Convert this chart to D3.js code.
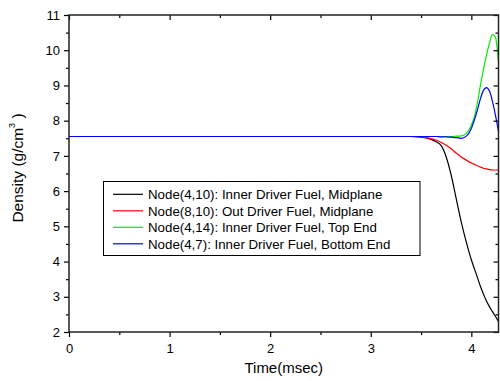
<!DOCTYPE html>
<html>
<head>
<meta charset="utf-8">
<script src="https://cdn.jsdelivr.net/npm/d3@7"></script>
<style>
  html, body { margin: 0; padding: 0; background: #fff; }
  svg { display: block; font-family: "Liberation Sans", Arial, sans-serif; }
</style>
</head>
<body>
<svg id="chart" width="500" height="381"></svg>
<script>
// ---- data ----
const timeMs = [0, 1, 2, 3, 3.3, 3.4, 3.5, 3.55, 3.6, 3.65, 3.7, 3.75, 3.8, 3.85, 3.9, 3.95, 4.0, 4.03, 4.06, 4.09, 4.12, 4.15, 4.18, 4.21, 4.24, 4.27];
const node4_10 = [7.55, 7.55, 7.55, 7.55, 7.55, 7.55, 7.53, 7.51, 7.47, 7.40, 7.29, 6.97, 6.45, 5.78, 5.12, 4.55, 4.05, 3.80, 3.55, 3.30, 3.08, 2.88, 2.72, 2.58, 2.44, 2.30];
const node8_10 = [7.55, 7.55, 7.55, 7.55, 7.55, 7.55, 7.54, 7.52, 7.49, 7.45, 7.38, 7.30, 7.20, 7.08, 6.97, 6.88, 6.80, 6.76, 6.72, 6.68, 6.65, 6.63, 6.61, 6.60, 6.60, 6.60];
const node4_14 = [7.55, 7.55, 7.55, 7.55, 7.55, 7.55, 7.55, 7.55, 7.55, 7.55, 7.55, 7.55, 7.55, 7.56, 7.57, 7.64, 7.88, 8.11, 8.50, 9.00, 9.45, 9.85, 10.20, 10.45, 10.36, 9.67];
const node4_7  = [7.55, 7.55, 7.55, 7.55, 7.55, 7.55, 7.55, 7.55, 7.55, 7.55, 7.54, 7.54, 7.53, 7.52, 7.50, 7.56, 7.78, 8.02, 8.30, 8.62, 8.86, 8.94, 8.84, 8.55, 8.15, 7.69];
const seriesNames = [
  "Node(4,10): Inner Driver Fuel, Midplane",
  "Node(8,10): Out Driver Fuel, Midplane",
  "Node(4,14): Inner Driver Fuel, Top End",
  "Node(4,7): Inner Driver Fuel, Bottom End"
];
const seriesColors = ["#000000", "#ff0000", "#00ee00", "#0000ff"];
const xTicks = [0, 1, 2, 3, 4];
const yTicks = [2, 3, 4, 5, 6, 7, 8, 9, 10, 11];

const seriesValues = [node4_10, node8_10, node4_14, node4_7];

// ---- layout ----
const svg = d3.select("#chart");
const L = 69, R = 498.5, T = 15, B = 332;
const x = d3.scaleLinear().domain([0, 4.27]).range([L, R]);
const y = d3.scaleLinear().domain([2, 11]).range([B, T]);

const minorX = d3.range(0.5, 4.27, 1);
const minorY = d3.range(2.5, 11, 1);

// curves (clipped to plot)
svg.append("clipPath").attr("id", "clip")
  .append("rect").attr("x", L).attr("y", T).attr("width", R - L).attr("height", B - T);

const line = d3.line().x(d => x(d[0])).y(d => y(d[1])).curve(d3.curveMonotoneX);
const g = svg.append("g").attr("clip-path", "url(#clip)");
seriesValues.forEach((vals, i) => {
  g.append("path")
    .datum(timeMs.map((t, j) => [t, vals[j]]))
    .attr("d", line)
    .attr("fill", "none")
    .attr("stroke", seriesColors[i])
    .attr("stroke-width", 1.2);
});

// axes
const tickStyle = sel => {
  sel.select(".domain").remove();
  sel.selectAll(".tick line").attr("stroke", "#000").attr("stroke-width", 1.2);
  sel.selectAll("text").attr("font-size", 13).attr("fill", "#000").attr("font-family", "Liberation Sans, Arial, sans-serif");
};

// bottom
svg.append("g").attr("transform", `translate(0,${B})`)
  .call(d3.axisBottom(x).tickValues(xTicks).tickFormat(d3.format("d")).tickSizeOuter(0).tickSizeInner(5).tickPadding(7))
  .call(tickStyle);
svg.append("g").attr("transform", `translate(0,${B})`)
  .call(d3.axisBottom(x).tickValues(minorX).tickFormat("").tickSizeOuter(0).tickSizeInner(3))
  .call(tickStyle);
// left
svg.append("g").attr("transform", `translate(${L},0)`)
  .call(d3.axisLeft(y).tickValues(yTicks).tickFormat(d3.format("d")).tickSizeOuter(0).tickSizeInner(5).tickPadding(4))
  .call(tickStyle);
svg.append("g").attr("transform", `translate(${L},0)`)
  .call(d3.axisLeft(y).tickValues(minorY).tickFormat("").tickSizeOuter(0).tickSizeInner(3))
  .call(tickStyle);
// top (inward)
svg.append("g").attr("transform", `translate(0,${T})`)
  .call(d3.axisBottom(x).tickValues(xTicks).tickFormat("").tickSizeOuter(0).tickSizeInner(5))
  .call(tickStyle);
svg.append("g").attr("transform", `translate(0,${T})`)
  .call(d3.axisBottom(x).tickValues(minorX).tickFormat("").tickSizeOuter(0).tickSizeInner(3))
  .call(tickStyle);
// right (inward)
svg.append("g").attr("transform", `translate(${R},0)`)
  .call(d3.axisLeft(y).tickValues(yTicks).tickFormat("").tickSizeOuter(0).tickSizeInner(5))
  .call(tickStyle);
svg.append("g").attr("transform", `translate(${R},0)`)
  .call(d3.axisLeft(y).tickValues(minorY).tickFormat("").tickSizeOuter(0).tickSizeInner(3))
  .call(tickStyle);

// frame
svg.append("rect").attr("x", L).attr("y", T).attr("width", R - L).attr("height", B - T)
  .attr("fill", "none").attr("stroke", "#222").attr("stroke-width", 1.5);

// axis titles
svg.append("text").attr("x", (L + R) / 2).attr("y", 373).attr("text-anchor", "middle")
  .attr("font-size", 15).attr("fill", "#000").text("Time(msec)");

const yt = svg.append("text").attr("transform", "translate(23,168) rotate(-90)")
  .attr("text-anchor", "middle").attr("font-size", 15.5).attr("fill", "#000");
yt.append("tspan").text("Density (g/cm");
yt.append("tspan").attr("font-size", 9).attr("dy", -8).text("3");
yt.append("tspan").attr("dy", 8).text(" )");

// legend
const lg = svg.append("g");
lg.append("rect").attr("x", 103.5).attr("y", 181.5).attr("width", 316.5).attr("height", 74)
  .attr("fill", "#fff").attr("stroke", "#000").attr("stroke-width", 1);
seriesNames.forEach((name, i) => {
  const yy = 194.3 + i * 16.5;
  lg.append("line").attr("x1", 113).attr("x2", 143).attr("y1", yy).attr("y2", yy)
    .attr("stroke", seriesColors[i]).attr("stroke-width", 1.2);
  lg.append("text").attr("x", 148).attr("y", yy + 5).attr("font-size", 13.3)
    .attr("fill", "#000").text(name);
});
</script>
</body>
</html>
